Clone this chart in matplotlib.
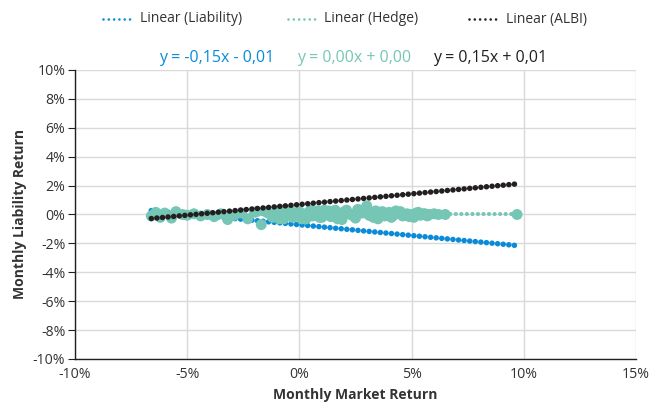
import matplotlib.pyplot as plt
from matplotlib.lines import Line2D
from matplotlib.ticker import FuncFormatter, MultipleLocator

plt.rcParams["font.family"] = ["Open Sans", "DejaVu Sans"]

# ---------- data (percent) ----------
trend_x = [-6.6, 9.7]
liability_trend = [0.27, -2.15]
hedge_trend = [0.0, 0.0]
albi_trend = [-0.28, 2.12]

hedge_x = [-6.6, -6.4, -6.2, -6.0, -5.7, -5.5, -5.2, -5.0, -4.7, -4.4, -4.1,
           -3.8, -3.5, -3.2, -2.9, -2.6, -2.3, -2.0, -1.7, -1.5, -1.2, -1.0,
           -0.7, -0.5, -0.3, 0.0, 0.2, 0.4, 0.6, 0.8, 1.0, 1.2, 1.4, 1.6,
           1.8, 2.0, 2.2, 2.4, 2.6, 2.8, 3.0, 3.2, 3.4, 3.6, 3.8, 4.0, 4.2,
           4.4, 4.6, 4.8, 5.0, 5.2, 5.4, 5.6, 5.8, 6.0, 6.2, 6.5, 9.7,
           -1.9, -1.4, -0.9, -0.4, 0.1, 0.5, 0.9, 1.3, 1.7, 2.1, 2.5, 2.9,
           3.3, 3.7, 4.1, 4.5, 4.9, 5.3, 5.7, -1.1, -0.2, 0.7, 1.5, 2.3,
           3.1, 3.9, 4.7, 5.5, -0.8, 0.3, 1.1, 1.9, 2.7, 3.5, 4.3, 5.1]
hedge_y = [-0.1, 0.15, -0.2, 0.1, -0.25, 0.2, 0.0, -0.05, 0.05, -0.1, 0.0,
           -0.15, 0.05, -0.35, -0.05, 0.1, -0.3, 0.15, -0.7, 0.2, -0.2, 0.25,
           -0.3, 0.1, -0.2, 0.2, -0.25, 0.15, -0.1, 0.25, -0.2, 0.1, -0.15,
           0.3, -0.2, 0.2, 0.05, -0.1, 0.35, 0.1, 0.6, -0.1, 0.25, 0.0, -0.1,
           0.15, -0.05, 0.1, -0.1, 0.05, 0.0, 0.1, -0.05, 0.05, 0.0, 0.05,
           0.0, 0.0, 0.0,
           0.2, 0.1, -0.3, 0.25, -0.3, 0.3, -0.2, 0.25, -0.3, 0.3, -0.25, 0.2,
           -0.2, 0.2, -0.2, 0.2, -0.15, 0.15, -0.1, -0.1, 0.05, 0.0, -0.05, 0.0,
           -0.05, 0.05, -0.05, 0.05, 0.3, -0.3, 0.3, -0.35, 0.3, -0.3, 0.25, -0.2]

equations = ["y = -0,15x - 0,01", "y = 0,00x + 0,00", "y = 0,15x + 0,01"]
labels = ["Linear (Liability)", "Linear (Hedge)", "Linear (ALBI)"]

blue = "#0a8bd7"
teal = "#76c6b5"
black = "#231f20"
grid_c = "#d9d9d9"
text_c = "#333333"
colors = [blue, teal, black]

W, H = 651, 412
fig = plt.figure(figsize=(W / 100, H / 100), dpi=100)
ax = fig.add_axes([75 / W, 1 - 359 / H, (636 - 75) / W, (359 - 70) / H])

ax.plot(trend_x, liability_trend, color=blue, lw=4.0, linestyle=(0, (0.01, 1.0)),
        dash_capstyle="round", zorder=3)
ax.scatter(hedge_x, hedge_y, s=62, color=teal, edgecolors="none", zorder=4)
ax.plot(trend_x, hedge_trend, color=teal, lw=3.0, linestyle=(0, (0.01, 1.32)),
        dash_capstyle="round", zorder=4)
ax.plot(trend_x, albi_trend, color=black, lw=4.0, linestyle=(0, (0.01, 1.0)),
        dash_capstyle="round", zorder=5)

ax.set_xlim(-10, 15)
ax.set_ylim(-10, 10)
ax.xaxis.set_major_locator(MultipleLocator(5))
ax.yaxis.set_major_locator(MultipleLocator(2))
pct = FuncFormatter(lambda v, _: f"{v:.0f}%")
ax.xaxis.set_major_formatter(pct)
ax.yaxis.set_major_formatter(pct)

ax.grid(True, color=grid_c, linewidth=1.0)
ax.set_axisbelow(True)
for s in ["top", "right"]:
    ax.spines[s].set_visible(False)
for s in ["left", "bottom"]:
    ax.spines[s].set_color(black)
    ax.spines[s].set_linewidth(1.0)
ax.tick_params(axis="y", length=5, color=black, labelsize=10.2, labelcolor=text_c, pad=2)
ax.tick_params(axis="x", length=0, labelsize=10.2, labelcolor=text_c, pad=6)

ax.set_xlabel("Monthly Market Return", fontsize=10, fontweight="bold", color=text_c, labelpad=4)
ax.set_ylabel("Monthly Liability Return", fontsize=10, fontweight="bold", color=text_c, labelpad=4)

# equation labels
eq_x = [159, 297, 433]
for xp, txt, c in zip(eq_x, equations, colors):
    fig.text(xp / W, 1 - 58 / H, txt, color=c, fontsize=11.5, ha="left", va="center")

# legend, placed entry by entry like the original
handle_x = [(103, 133), (288, 317), (469, 496)]
label_x = [140, 324, 506]
ly = 1 - 19 / H
for (x0, x1), tx, txt, c in zip(handle_x, label_x, labels, colors):
    fig.add_artist(Line2D([x0 / W, x1 / W], [ly, ly], color=c, lw=1.9,
                          linestyle=(0, (0.01, 2.0)), dash_capstyle="round"))
    fig.text(tx / W, ly, txt, color=text_c, fontsize=10, ha="left", va="center")

fig.savefig("out.png", dpi=100)
